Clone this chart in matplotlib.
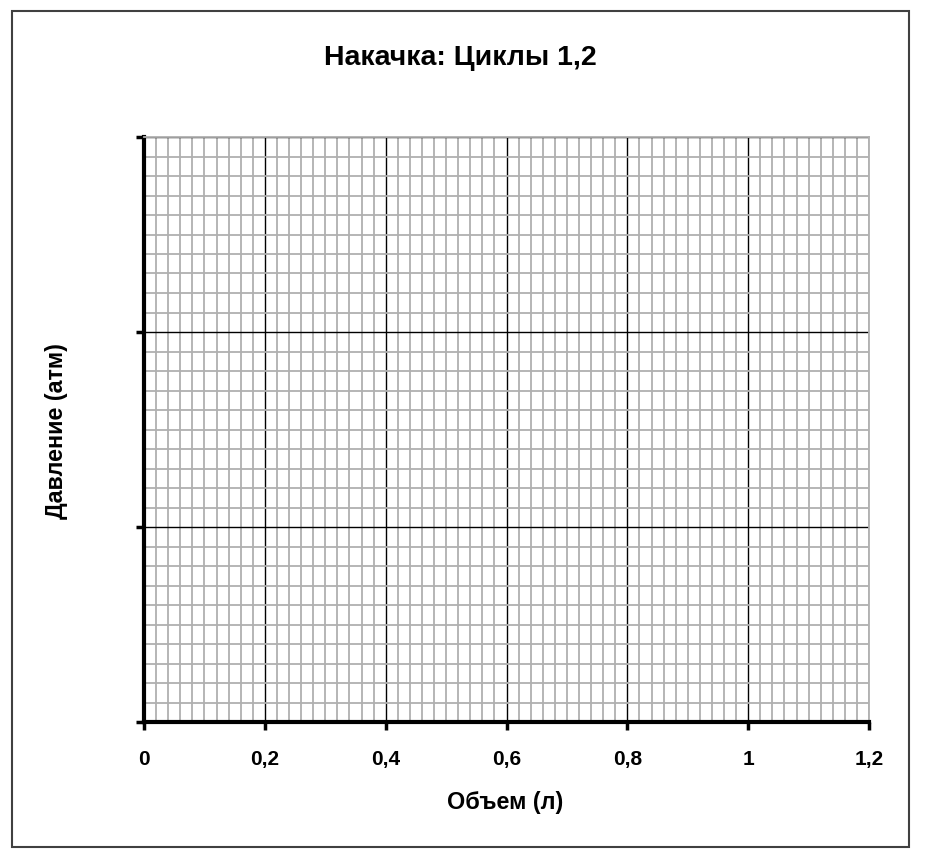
import matplotlib.pyplot as plt
from matplotlib.ticker import MultipleLocator

plt.rcParams['font.family'] = ['Liberation Sans', 'DejaVu Sans']

# данные графика (пустая сетка, без серий)
x_ticks = [0, 0.2, 0.4, 0.6, 0.8, 1.0, 1.2]
x_labels = ['0', '0,2', '0,4', '0,6', '0,8', '1', '1,2']
y_ticks = [0, 1, 2, 3]
title = 'Накачка: Циклы 1,2'
x_title = 'Объем (л)'
y_title = 'Давление (атм)'

W, H = 931, 860
fig = plt.figure(figsize=(W / 100, H / 100), dpi=100)

# рамка вокруг всей картинки
fig.patches.append(plt.Rectangle((12 / W, 1 - 847 / H), (909 - 12) / W, (847 - 11) / H,
                                 transform=fig.transFigure, fill=False,
                                 edgecolor='#404040', linewidth=1.5))

ax = fig.add_axes([144 / W, 1 - 722 / H, (869 - 144) / W, (722 - 137) / H])
ax.set_xlim(0, 1.2)
ax.set_ylim(0, 3)

ax.xaxis.set_minor_locator(MultipleLocator(0.02))
ax.yaxis.set_minor_locator(MultipleLocator(0.1))
ax.grid(which='minor', color='#b0b0b0', linewidth=1.3)
ax.grid(which='major', color='black', linewidth=1.0)
ax.set_axisbelow(True)

ax.set_xticks(x_ticks)
ax.set_xticklabels(x_labels, fontsize=15, fontweight='bold')
ax.set_yticks(y_ticks)
ax.set_yticklabels([])
ax.tick_params(which='major', direction='out', length=6, width=2.5, color='black', pad=14)
ax.tick_params(which='minor', length=0)

for side in ['left', 'bottom']:
    ax.spines[side].set_linewidth(3)
    ax.spines[side].set_color('black')
for side in ['top', 'right']:
    ax.spines[side].set_linewidth(1.3)
    ax.spines[side].set_color('#b0b0b0')

fig.text(460 / W, 1 - 58 / H, title, ha='center', va='center', fontsize=20.5, fontweight='bold')
fig.text(505 / W, 1 - 802 / H, x_title, ha='center', va='center', fontsize=16.8, fontweight='bold')
fig.text(57 / W, 1 - 431 / H, y_title, ha='center', va='center', rotation=90,
         fontsize=16.8, fontweight='bold')

fig.savefig('out.png', dpi=100)
